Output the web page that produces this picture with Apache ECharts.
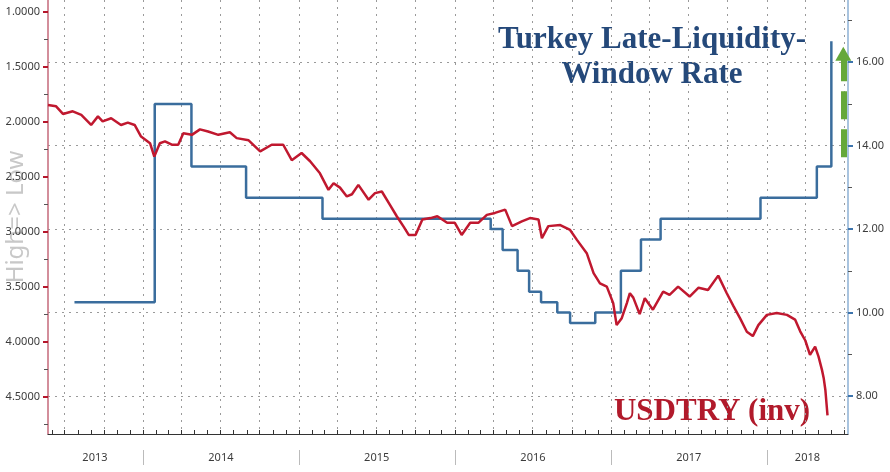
<!DOCTYPE html>
<html>
<head>
<meta charset="utf-8">
<title>Turkey Late-Liquidity-Window Rate vs USDTRY</title>
<script src="https://cdn.jsdelivr.net/npm/echarts@6/dist/echarts.min.js"></script>
<style>
  html, body { margin: 0; padding: 0; background: #fff; }
  #main { width: 890px; height: 472px; }
</style>
</head>
<body>
<div id="main"></div>
<script>
// USDTRY (left axis, inverted)
var usdDates = [
  '2013-05-23', '2013-06-11', '2013-06-27', '2013-07-20', '2013-08-09', '2013-09-01', '2013-09-17', '2013-09-28',
  '2013-10-18', '2013-11-10', '2013-11-26', '2013-12-12', '2013-12-27', '2014-01-17', '2014-01-27', '2014-02-09',
  '2014-02-21', '2014-03-09', '2014-03-24', '2014-04-05', '2014-04-25', '2014-05-14', '2014-06-02', '2014-06-26',
  '2014-07-23', '2014-08-08', '2014-09-05', '2014-10-02', '2014-10-29', '2014-11-25', '2014-12-15', '2015-01-07',
  '2015-01-27', '2015-02-19', '2015-03-11', '2015-03-23', '2015-04-07', '2015-04-23', '2015-05-05', '2015-05-20',
  '2015-06-13', '2015-06-28', '2015-07-14', '2015-08-02', '2015-08-18', '2015-09-03', '2015-09-15', '2015-10-01',
  '2015-10-17', '2015-11-05', '2015-11-21', '2015-12-14', '2016-01-01', '2016-01-17', '2016-02-06', '2016-02-25',
  '2016-03-16', '2016-04-04', '2016-04-28', '2016-05-14', '2016-06-06', '2016-06-25', '2016-07-15', '2016-07-23',
  '2016-08-07', '2016-09-04', '2016-09-27', '2016-10-13', '2016-11-05', '2016-11-21', '2016-12-06', '2016-12-22',
  '2017-01-06', '2017-01-14', '2017-01-26', '2017-02-07', '2017-02-14', '2017-02-22', '2017-03-09', '2017-03-21',
  '2017-04-09', '2017-05-03', '2017-05-18', '2017-06-07', '2017-07-04', '2017-07-25', '2017-08-16', '2017-09-09',
  '2017-09-29', '2017-10-15', '2017-10-30', '2017-11-15', '2017-11-29', '2017-12-12', '2018-01-01', '2018-01-24',
  '2018-02-17', '2018-03-08', '2018-03-20', '2018-04-01', '2018-04-12', '2018-04-24', '2018-05-02', '2018-05-10',
  '2018-05-14', '2018-05-18', '2018-05-23'
];
var usdValues = [
  1.848, 1.861, 1.930, 1.906, 1.939, 2.030, 1.952, 1.997,
  1.969, 2.030, 2.009, 2.030, 2.136, 2.196, 2.318, 2.196,
  2.180, 2.210, 2.210, 2.106, 2.120, 2.070, 2.090, 2.120,
  2.097, 2.150, 2.170, 2.270, 2.210, 2.210, 2.350, 2.285,
  2.360, 2.470, 2.620, 2.560, 2.600, 2.680, 2.660, 2.575,
  2.710, 2.650, 2.635, 2.757, 2.860, 2.955, 3.030, 3.030,
  2.890, 2.877, 2.860, 2.920, 2.920, 3.030, 2.920, 2.920,
  2.848, 2.830, 2.800, 2.950, 2.907, 2.877, 2.890, 3.060,
  2.950, 2.940, 2.985, 3.075, 3.196, 3.378, 3.470, 3.500,
  3.650, 3.850, 3.787, 3.650, 3.560, 3.600, 3.750, 3.605,
  3.710, 3.545, 3.575, 3.500, 3.590, 3.510, 3.530, 3.400,
  3.560, 3.680, 3.787, 3.910, 3.950, 3.850, 3.757, 3.740,
  3.757, 3.800, 3.906, 3.990, 4.120, 4.045, 4.136, 4.257,
  4.330, 4.440, 4.670
];

// late liquidity window rate (right axis), value holds from each date
var rateDates = [
  '2013-07-24', '2014-01-28', '2014-04-24', '2014-08-30', '2015-02-25', '2016-03-25', '2016-04-22', '2016-05-27',
  '2016-06-23', '2016-07-21', '2016-08-28', '2016-09-27', '2016-11-25', '2017-01-24', '2017-03-12', '2017-04-27',
  '2017-12-17', '2018-04-28', '2018-06-01'
];
var rateValues = [
  10.25, 15.0, 13.5, 12.75, 12.25, 12.0, 11.5, 11.0,
  10.5, 10.25, 10.0, 9.75, 10.0, 11.0, 11.75, 12.25,
  12.75, 13.5, 16.5
];

var leftTicks = [1.0, 1.5, 2.0, 2.5, 3.0, 3.5, 4.0, 4.5];
var leftMinor = [1.25, 1.75, 2.25, 2.75, 3.25, 3.75, 4.25, 4.75];
var rightTicks = [8, 10, 12, 14, 16];
var rightMinor = [9, 11, 13, 15, 17];
var yearLabelDays = ['2013-09-10', '2014-07-02', '2015-07-02', '2016-07-02', '2017-07-02', '2018-04-06'];

function ts(s) {
  var p = s.split('-');
  return new Date(+p[0], +p[1] - 1, +p[2]).getTime();
}

var xMin = ts('2013-05-23');
var xMax = ts('2018-07-10');

var monthTicks = [], quarterTicks = [], yearTicks = [];
for (var y = 2013; y <= 2018; y++) {
  for (var m = 0; m < 12; m++) {
    var t = new Date(y, m, 1).getTime();
    if (t < xMin || t > xMax) continue;
    monthTicks.push(t);
    if (m % 3 === 0) quarterTicks.push(t);
    if (m === 0) yearTicks.push(t);
  }
}

var usdData = usdDates.map(function (d, i) { return [ts(d), usdValues[i]]; });
var rateData = rateDates.map(function (d, i) { return [ts(d), rateValues[i]]; });

var arrowDay = ts('2018-06-29');

var chart = echarts.init(document.getElementById('main'));

var dotted = { color: '#9a9a9a', width: 1, type: [2, 5] };

var option = {
  animation: false,
  backgroundColor: '#fff',
  grid: { left: 48, right: 42, top: 0, bottom: 38, containLabel: false, outerBoundsMode: 'none' },
  xAxis: [
    {
      type: 'value', min: xMin, max: xMax,
      axisLine: { show: true, lineStyle: { color: '#333', width: 1 } },
      axisTick: { show: true, inside: true, length: 4, customValues: monthTicks, lineStyle: { color: '#333' } },
      axisLabel: { show: false },
      splitLine: { show: false }
    },
    {
      type: 'value', min: xMin, max: xMax,
      axisLine: { show: false },
      axisTick: { show: false, customValues: quarterTicks },
      axisLabel: { show: false },
      splitLine: { show: true, lineStyle: dotted }
    },
    {
      type: 'value', min: xMin, max: xMax, position: 'bottom', offset: 16,
      axisLine: { show: false },
      axisTick: { show: true, length: 15, customValues: yearTicks, lineStyle: { color: '#bbb', width: 1 } },
      axisLabel: {
        show: true, margin: 2, customValues: yearLabelDays.map(ts),
        formatter: function (v) { return String(new Date(v).getFullYear()); },
        color: '#3c3c3c', fontSize: 11, fontFamily: 'Noto Sans'
      },
      splitLine: { show: false }
    }
  ],
  yAxis: [
    {
      type: 'value', position: 'left', inverse: true, min: 0.894, max: 4.84,
      name: 'High=> Low', nameLocation: 'middle', nameGap: 20, nameMoveOverlap: false,
      nameTextStyle: { color: '#c8c8c8', fontSize: 24, fontFamily: 'Noto Sans' },
      axisLine: { show: true, lineStyle: { color: '#c4687a', width: 1.5 } },
      axisTick: { show: true, length: 5, customValues: leftTicks, lineStyle: { color: '#b5162b', width: 2 } },
      axisLabel: {
        show: true, margin: 8, customValues: leftTicks,
        formatter: function (v) { return v.toFixed(4); },
        color: '#3c3c3c', fontSize: 11, fontFamily: 'Noto Sans'
      },
      splitLine: { show: false }
    },
    {
      type: 'value', position: 'left', inverse: true, min: 0.894, max: 4.84,
      axisLine: { show: false },
      axisTick: { show: true, length: 4, customValues: leftMinor, lineStyle: { color: '#555', width: 1 } },
      axisLabel: { show: false },
      splitLine: { show: false }
    },
    {
      type: 'value', position: 'right', min: 7.09, max: 17.49,
      axisLine: { show: true, lineStyle: { color: '#8db0d4', width: 1.5 } },
      axisTick: { show: true, length: 5, customValues: rightTicks, lineStyle: { color: '#3d74ad', width: 2 } },
      axisLabel: {
        show: true, margin: 8, customValues: rightTicks,
        formatter: function (v) { return v.toFixed(2); },
        color: '#3c3c3c', fontSize: 11, fontFamily: 'Noto Sans'
      },
      splitLine: { show: true, lineStyle: dotted }
    },
    {
      type: 'value', position: 'right', min: 7.09, max: 17.49,
      axisLine: { show: false },
      axisTick: { show: true, length: 4, customValues: rightMinor, lineStyle: { color: '#555', width: 1 } },
      axisLabel: { show: false },
      splitLine: { show: false }
    }
  ],
  series: [
    {
      name: 'USDTRY (inv)', type: 'line', xAxisIndex: 0, yAxisIndex: 0,
      data: usdData, showSymbol: false, symbol: 'none',
      lineStyle: { color: '#c0182f', width: 2.5 }, z: 3
    },
    {
      name: 'Turkey Late-Liquidity-Window Rate', type: 'line', xAxisIndex: 0, yAxisIndex: 2,
      data: rateData, step: 'end', showSymbol: false, symbol: 'none',
      lineStyle: { color: '#3a6d9d', width: 2.5 }, z: 2,
      markLine: {
        silent: true, animation: false,
        symbol: ['none', 'triangle'], symbolSize: [16, 14],
        label: { show: false },
        lineStyle: { color: '#65a83a', width: 6, type: [28, 10] },
        data: [[{ coord: [arrowDay, 13.72] }, { coord: [arrowDay, 16.2] }]]
      }
    }
  ],
  graphic: [
    {
      type: 'text', x: 652, y: 22, silent: true,
      style: {
        text: 'Turkey Late-Liquidity-\nWindow Rate',
        align: 'center', verticalAlign: 'top', lineHeight: 35,
        font: 'bold 31px "Liberation Serif"', fill: '#25497a'
      }
    },
    {
      type: 'text', x: 712, y: 412, silent: true,
      style: {
        text: 'USDTRY (inv)',
        align: 'center', verticalAlign: 'middle',
        font: 'bold 31px "Liberation Serif"', fill: '#b11a2b'
      }
    }
  ]
};

chart.setOption(option);
</script>
</body>
</html>
